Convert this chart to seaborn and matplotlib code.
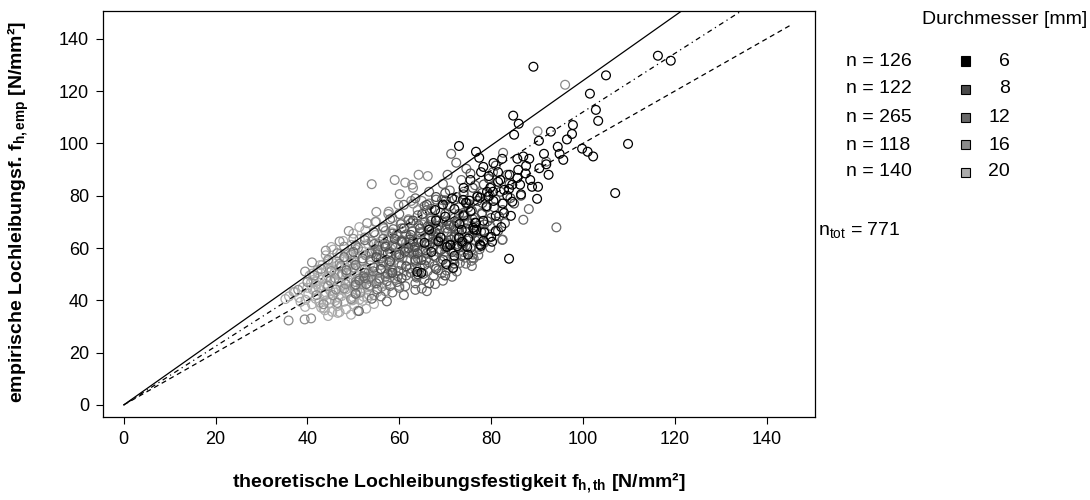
import numpy as np
import pandas as pd
import matplotlib
matplotlib.use("Agg")
import matplotlib.pyplot as plt
import seaborn as sns

# Durchmesser der Verbindungsmittel und Anzahl der Versuche
durchmesser = [6, 8, 12, 16, 20]
anzahl = [126, 122, 265, 118, 140]
n_gesamt = 771
farben = ["#000000", "#4a4a4a", "#686868", "#8a8a8a", "#ababab"]

# Geraden durch den Ursprung (Steigung) und ihre Linienart
steigungen = [1.24, 1.12, 1.0]
linienarten = ["-", (0, (1, 3, 4, 3)), (0, (4, 3))]

# d = 6 mm
x6 = [89.2, 116.3, 119.1, 105.0, 101.5, 102.8, 103.3, 97.8, 97.6, 94.5, 94.9, 95.7, 99.8, 101.0,
      102.2, 109.8, 107.0, 84.8, 86.0, 85.0, 90.4, 73.0, 76.7, 77.4, 82.4, 85.7, 87.0, 88.3, 87.6,
      78.3, 77.8, 85.9, 85.7, 82.0, 81.5, 84.6, 86.3, 83.9, 82.8, 88.9, 90.2, 90.0, 84.6, 79.8,
      79.1, 80.4, 77.0, 77.6, 73.9, 84.3, 82.8, 81.0, 82.2, 78.3, 76.7, 76.3, 80.0, 80.2, 78.3,
      77.8, 83.9, 70.2, 71.7, 63.9, 64.8, 74.8, 73.7, 76.1, 77.6, 71.1, 70.4, 73.0, 79.4, 69.5,
      72.0, 67.8, 74.5, 75.3, 73.1, 73.6, 71.1, 72.6, 75.0, 76.5, 76.8, 68.0, 66.5, 70.0, 74.0,
      79.0, 80.5, 75.5, 71.5, 68.5, 67.0, 72.0, 75.0, 69.0, 65.5, 78.5, 81.0, 82.5, 83.5, 86.5,
      81.5, 79.5, 84.0, 87.5, 92.5, 90.5, 88.5, 92.0, 96.5, 93.0, 91.5, 80.5, 75.5, 74.0]
y6 = [129.3, 133.5, 131.6, 126.0, 119.0, 112.8, 108.6, 107.0, 103.6, 98.7, 96.0, 93.7, 98.0, 96.8,
      95.0, 99.8, 81.0, 110.6, 107.5, 103.3, 101.0, 99.0, 96.8, 94.5, 94.1, 94.1, 95.0, 94.1, 91.4,
      91.0, 89.0, 89.9, 86.8, 86.0, 85.3, 84.2, 84.2, 82.6, 82.2, 83.4, 83.4, 78.8, 77.7, 83.0,
      81.5, 81.5, 79.6, 79.2, 78.4, 72.3, 73.4, 72.3, 68.0, 70.4, 69.6, 67.0, 64.3, 62.4, 62.7,
      60.8, 55.9, 53.9, 52.4, 50.9, 50.5, 60.4, 62.4, 67.7, 61.2, 61.2, 60.4, 63.9, 79.7, 76.6,
      74.9, 74.5, 77.3, 78.1, 69.2, 66.9, 61.1, 60.7, 63.6, 69.7, 66.9, 70.5, 67.0, 72.0, 72.5,
      76.0, 78.0, 74.0, 79.0, 62.5, 58.5, 57.0, 57.5, 64.0, 62.0, 66.0, 66.5, 77.0, 80.0, 80.5,
      89.0, 87.5, 88.0, 88.5, 88.0, 90.5, 86.0, 92.0, 101.5, 104.5, 96.0, 92.5, 86.0, 83.0]

# d = 8 mm
x8 = [58.0, 60.0, 62.0, 64.0, 66.0, 68.0, 70.0, 72.0, 74.0, 76.0, 60.5, 62.5, 64.5, 66.5, 68.5,
      70.5, 72.5, 74.5, 76.5, 78.5, 63.0, 65.0, 67.0, 69.0, 71.0, 73.0, 75.0, 77.0, 79.0, 81.0,
      66.0, 68.0, 70.0, 72.0, 74.0, 76.0, 78.0, 80.0, 82.0, 84.0, 57.0, 59.0, 61.0, 56.0, 58.5,
      61.5, 63.5, 65.5, 67.5, 69.5, 71.5, 73.5, 75.5, 77.5, 79.5, 81.5, 83.0, 80.0, 78.0, 82.5,
      85.0, 86.5, 83.5, 79.5, 75.5, 81.0, 60.5, 64.0, 68.0, 72.0, 66.5, 70.0, 55.0, 57.5, 63.0,
      67.0, 71.0, 75.0, 73.0, 69.0, 62.3, 64.1, 66.2, 67.8, 70.3, 71.9, 74.2, 75.8, 78.1, 79.7,
      63.4, 65.7, 67.3, 69.8, 71.2, 73.6, 75.3, 77.8, 79.2, 81.7, 61.2, 64.8, 69.1, 72.9, 77.3,
      80.6, 84.2, 70.1, 74.7, 78.4]
y8 = [55.0, 57.5, 60.0, 58.0, 61.5, 63.0, 60.5, 64.5, 62.0, 65.5, 62.5, 65.0, 67.5, 64.5, 68.5,
      66.0, 70.0, 67.5, 71.5, 69.0, 70.5, 73.0, 70.5, 73.5, 76.0, 73.0, 75.5, 78.0, 75.5, 78.5,
      76.5, 79.5, 81.0, 78.5, 80.5, 83.0, 81.0, 83.5, 81.5, 84.5, 60.5, 63.5, 67.5, 52.0, 50.5,
      53.0, 55.5, 53.5, 57.0, 55.5, 58.5, 57.0, 60.0, 61.5, 64.0, 66.5, 69.5, 71.5, 73.0, 74.5,
      77.0, 80.0, 88.0, 86.5, 88.5, 91.5, 48.5, 50.0, 52.0, 54.0, 46.5, 49.5, 56.5, 58.0, 62.5,
      66.5, 68.5, 69.5, 66.5, 64.0, 63.2, 62.1, 68.3, 66.1, 70.2, 68.4, 72.1, 74.3, 77.2, 80.1,
      60.4, 59.2, 62.3, 61.4, 63.2, 61.7, 64.1, 66.3, 70.2, 72.1, 58.6, 55.4, 59.3, 60.2, 63.4,
      75.6, 79.1, 78.2, 77.1, 84.3]

# d = 12 mm
x12 = [72.4, 71.3, 74.6, 80.4, 82.6, 92.0, 94.2, 88.2, 87.0, 82.5, 76.2, 64.9, 57.3, 51.2, 54.0,
       50.5, 79.8, 81.3, 82.4, 75.9, 69.3, 56.0, 58.5, 61.0, 63.5, 66.0, 60.0, 50.5, 52.5, 55.0,
       57.0, 59.5, 61.5, 63.5, 65.5, 67.5, 69.5, 71.5, 58.0, 48.5, 50.5, 52.5, 54.5, 56.5, 58.5,
       60.5, 62.5, 64.5, 66.5, 68.5, 70.5, 72.5, 74.5, 57.5, 63.5, 69.0, 48.0, 50.0, 52.0, 54.0,
       56.0, 58.0, 60.0, 62.0, 64.0, 66.0, 68.0, 70.0, 72.0, 74.0, 76.0, 77.5, 61.0, 65.0, 50.5,
       52.5, 54.5, 56.5, 58.5, 60.5, 62.5, 64.5, 66.5, 68.5, 70.5, 72.5, 74.5, 76.5, 78.5, 63.5,
       67.5, 59.5, 54.5, 56.5, 58.5, 60.5, 62.5, 64.5, 66.5, 68.5, 70.5, 72.5, 74.5, 76.5, 78.5,
       65.5, 61.5, 69.5, 58.0, 60.0, 62.0, 64.0, 66.0, 68.0, 70.0, 72.0, 74.0, 76.0, 78.0, 67.0,
       61.0, 63.5, 65.5, 68.0, 70.5, 72.5, 75.0, 77.0, 66.5, 71.0, 74.0, 69.5, 73.5, 76.5, 70.5,
       53.7, 55.2, 57.8, 59.3, 61.7, 63.2, 65.8, 67.3, 69.7, 71.2, 73.8, 52.2, 54.3, 55.7, 58.2,
       59.8, 62.3, 63.7, 66.2, 67.7, 70.3, 71.8, 74.3, 75.7, 55.3, 56.8, 59.2, 60.7, 63.3, 64.8,
       67.2, 68.7, 71.3, 72.8, 75.2, 76.8, 58.7, 60.3, 62.8, 64.2, 66.8, 68.2, 70.8, 72.3, 74.8,
       51.3, 52.8, 55.2, 57.3, 59.7, 61.3, 63.8, 65.2, 67.8, 69.2, 71.7, 73.2, 75.8, 77.2, 79.8]
y12 = [92.6, 96.0, 90.3, 89.0, 96.4, 93.0, 67.9, 74.9, 70.8, 63.2, 56.0, 44.5, 39.6, 35.9, 40.6,
       42.5, 68.5, 70.0, 63.1, 56.2, 78.4, 41.5, 43.0, 42.0, 44.0, 43.5, 44.8, 46.0, 48.5, 46.5,
       49.0, 47.0, 49.5, 46.5, 48.0, 49.5, 47.5, 49.0, 45.5, 51.5, 53.5, 50.5, 52.5, 54.5, 51.5,
       53.5, 50.5, 52.5, 54.5, 51.5, 53.5, 51.0, 54.0, 50.2, 54.8, 55.0, 56.5, 58.5, 56.0, 58.0,
       56.0, 58.5, 56.5, 58.5, 56.0, 58.0, 56.5, 58.5, 56.0, 58.5, 57.5, 59.5, 59.8, 59.5, 61.0,
       63.0, 61.5, 63.5, 61.0, 63.0, 61.5, 63.5, 61.0, 63.0, 61.5, 63.5, 61.0, 63.0, 62.0, 60.2,
       64.8, 64.6, 66.0, 68.0, 65.5, 67.5, 69.5, 66.0, 68.0, 65.5, 67.5, 69.5, 66.0, 68.0, 66.5,
       69.8, 65.2, 69.8, 71.0, 73.0, 70.5, 72.5, 74.5, 71.0, 73.0, 71.5, 73.5, 71.0, 73.5, 75.0,
       76.5, 79.0, 76.0, 78.5, 76.5, 79.5, 77.0, 80.0, 81.5, 82.0, 81.5, 84.5, 86.0, 84.0, 88.0,
       55.4, 57.6, 54.3, 57.2, 55.1, 57.7, 55.3, 60.2, 56.8, 59.4, 60.7, 49.2, 51.1, 48.3, 50.6,
       51.2, 52.1, 49.3, 51.2, 53.1, 51.4, 55.2, 56.3, 55.1, 59.3, 61.7, 60.2, 62.1, 59.4, 62.2,
       60.3, 62.6, 64.3, 61.4, 64.2, 66.1, 67.2, 69.1, 66.4, 68.7, 71.2, 67.1, 69.3, 67.2, 70.4,
       47.6, 46.2, 44.1, 47.3, 49.2, 45.4, 48.7, 50.1, 46.2, 50.3, 52.2, 54.3, 53.1, 57.2, 60.1]

# d = 16 mm
x16 = [54.0, 59.0, 61.3, 64.2, 66.2, 62.8, 63.0, 57.7, 55.0, 57.6, 59.8, 54.8, 96.1, 90.1, 35.9,
       39.4, 40.8, 42.0, 44.5, 46.0, 48.5, 50.5, 52.5, 54.0, 56.0, 58.0, 60.0, 47.0, 49.5, 51.0,
       53.5, 55.5, 57.5, 59.5, 61.5, 63.0, 65.0, 62.0, 60.5, 58.5, 56.5, 54.5, 52.5, 50.0, 48.0,
       46.5, 44.5, 43.0, 41.5, 40.0, 45.5, 48.0, 51.5, 53.5, 55.5, 57.5, 59.0, 61.0, 62.5, 64.5,
       66.5, 68.0, 70.0, 67.0, 64.0, 66.5, 62.6, 64.9, 60.1, 63.0, 68.5, 71.5, 73.0, 70.5, 72.5,
       74.0, 66.0, 68.5, 63.5, 60.0, 57.0, 54.5, 49.5, 46.5, 43.5, 52.0, 50.0, 47.5, 45.0, 56.5,
       58.5, 54.0, 61.5, 65.5, 57.0, 53.0, 49.0, 47.0, 44.0, 41.0, 39.5, 38.0, 45.2, 47.3, 50.2,
       52.7, 54.8, 57.3, 60.2, 62.3, 65.2, 50.3, 53.2, 55.3, 58.2, 60.7, 63.2, 46.2, 48.3, 51.2,
       53.3, 56.2]
y16 = [84.4, 86.0, 85.0, 88.0, 87.5, 84.2, 83.0, 73.9, 73.8, 73.0, 76.5, 70.0, 122.4, 104.6, 32.3,
       32.7, 33.1, 42.0, 45.5, 48.5, 50.5, 47.0, 52.0, 49.0, 53.5, 56.5, 54.0, 54.0, 57.5, 60.0,
       58.0, 61.5, 63.0, 65.5, 62.0, 66.5, 69.0, 71.0, 69.5, 71.5, 68.0, 66.0, 64.0, 63.5, 60.5,
       58.0, 55.5, 52.0, 49.5, 47.0, 42.0, 44.5, 43.0, 45.5, 47.5, 50.0, 48.5, 51.0, 55.5, 58.5,
       61.0, 64.5, 67.5, 72.0, 74.5, 77.0, 78.0, 78.0, 80.6, 77.0, 70.5, 72.0, 75.5, 62.0, 65.0,
       69.5, 56.0, 58.5, 52.0, 45.5, 43.5, 42.0, 40.5, 39.0, 38.5, 55.0, 52.5, 50.0, 47.5, 58.5,
       60.5, 62.5, 59.5, 64.0, 66.5, 69.5, 66.5, 62.5, 59.0, 54.5, 51.0, 44.0, 51.2, 53.1, 55.3,
       57.2, 59.1, 61.2, 62.7, 64.1, 66.3, 45.4, 48.2, 50.3, 52.6, 56.2, 58.3, 44.1, 46.2, 48.3,
       50.7, 45.2]

# d = 20 mm
x20 = [44.5, 47.0, 49.5, 52.8, 39.5, 41.0, 43.0, 44.8, 46.5, 48.0, 50.2, 52.0, 54.5, 38.2, 40.2,
       41.8, 43.6, 45.0, 46.8, 48.5, 50.0, 51.5, 53.4, 55.2, 47.5, 44.2, 39.0, 40.8, 42.5, 44.0,
       45.8, 47.2, 49.0, 50.6, 52.2, 53.8, 55.6, 57.2, 43.2, 48.2, 40.5, 42.2, 44.5, 46.0, 47.6,
       49.5, 51.0, 52.8, 54.5, 56.0, 58.0, 45.2, 50.2, 42.8, 44.6, 46.4, 48.0, 49.8, 51.8, 53.6,
       55.4, 57.2, 59.0, 47.0, 44.0, 45.6, 48.6, 50.4, 52.6, 54.2, 56.4, 58.2, 60.0, 45.2, 47.8,
       49.6, 51.4, 53.2, 55.8, 57.6, 59.6, 50.0, 52.6, 54.8, 56.6, 58.4, 51.3, 55.0, 35.2, 37.0,
       38.5, 40.0, 41.3, 43.5, 45.4, 50.9, 51.3, 49.8, 53.0, 43.3, 42.2, 36.0, 37.3, 46.2, 48.8,
       44.0, 47.0, 49.6, 42.0, 51.8, 46.0, 48.4, 53.6, 50.4, 47.4, 44.8, 52.0, 49.2, 55.6, 41.6,
       39.6, 43.8, 46.6, 42.6, 45.1, 47.4, 49.8, 52.2, 41.2, 43.6, 46.0, 48.4, 50.8, 53.2, 44.2,
       46.6, 49.0, 51.4, 53.8, 42.0, 44.4, 46.8, 49.2, 51.6, 54.0, 45.6, 48.0, 50.4, 52.8, 47.2,
       49.6, 43.8, 41.0]
y20 = [34.0, 35.5, 34.5, 36.8, 37.5, 38.5, 37.2, 39.0, 37.8, 39.5, 38.2, 39.8, 38.6, 41.0, 42.5,
       40.6, 41.8, 43.5, 41.2, 42.8, 41.0, 43.6, 42.0, 43.2, 44.0, 40.0, 45.0, 46.8, 44.6, 46.2,
       47.6, 45.4, 46.8, 45.0, 47.2, 45.6, 47.8, 46.0, 48.0, 48.0, 49.5, 50.8, 49.2, 51.2, 49.6,
       51.0, 49.2, 51.5, 49.8, 51.6, 50.0, 52.0, 52.4, 53.5, 55.0, 53.2, 55.6, 53.8, 55.2, 53.4,
       55.8, 54.0, 55.4, 56.5, 57.2, 59.4, 58.0, 59.6, 57.4, 59.2, 57.6, 59.8, 58.2, 60.4, 62.7,
       61.2, 63.4, 61.6, 62.4, 63.8, 61.8, 65.5, 66.8, 65.0, 67.4, 66.0, 68.0, 70.0, 40.5, 43.2,
       39.4, 44.8, 47.8, 37.1, 35.6, 36.0, 40.2, 40.2, 40.9, 53.6, 51.6, 41.5, 43.2, 44.2, 43.2,
       43.0, 47.0, 48.4, 46.0, 44.6, 39.8, 36.6, 48.6, 54.4, 52.6, 50.6, 58.6, 57.0, 60.8, 43.8,
       40.2, 36.2, 35.2, 39.2, 40.4, 41.6, 40.0, 41.4, 44.0, 45.2, 43.0, 44.2, 43.8, 45.0, 48.6,
       49.8, 47.6, 48.4, 50.6, 47.2, 52.4, 50.0, 53.0, 46.2, 47.0, 54.2, 52.0, 56.4, 48.0, 57.8,
       55.0, 42.4, 50.2]

# Tabelle fuer seaborn, Zeichenreihenfolge: 20 mm zuerst, 6 mm zuletzt
teile = []
for d, xs, ys in [(20, x20, y20), (16, x16, y16), (12, x12, y12), (8, x8, y8), (6, x6, y6)]:
    teile.append(pd.DataFrame({"fth": xs, "femp": ys, "d": str(d)}))
df = pd.concat(teile, ignore_index=True)
palette = {str(d): c for d, c in zip(durchmesser, farben)}

sns.set_style("ticks")
plt.rcParams["font.family"] = ["Liberation Sans", "DejaVu Sans"]
plt.rcParams["mathtext.fontset"] = "custom"
plt.rcParams["mathtext.rm"] = "Liberation Sans"
plt.rcParams["mathtext.it"] = "Liberation Sans:italic"
plt.rcParams["mathtext.bf"] = "Liberation Sans:bold"
plt.rcParams["text.color"] = "black"

fig = plt.figure(figsize=(10.9, 5.0), dpi=100)
ax = fig.add_axes([103 / 1090, 1 - 417 / 500, 712 / 1090, 406 / 500])

sns.scatterplot(data=df, x="fth", y="femp", hue="d", palette=palette, s=40,
                linewidth=0.9, legend=False, ax=ax)
# offene Kreise wie im Original
for coll in ax.collections:
    fc = coll.get_facecolors()
    coll.set_edgecolors(fc)
    coll.set_facecolors("none")

xl = np.array([0, 145])
for m, ls in zip(steigungen, linienarten):
    ax.plot(xl, m * xl, color="black", linewidth=0.9, linestyle=ls)

ax.set_xlim(-4.5, 150.5)
ax.set_ylim(-4.6, 150.6)
ax.set_xticks(range(0, 141, 20))
ax.set_yticks(range(0, 141, 20))
for s in ax.spines.values():
    s.set_visible(True)
    s.set_linewidth(0.9)
    s.set_color("black")
ax.tick_params(direction="out", length=5, width=0.8, labelsize=13, pad=5,
               colors="black", labelcolor="black")

ax.set_xlabel("")
ax.set_ylabel("")
fig.text(459 / 1090, 1 - 483 / 500,
         "theoretische Lochleibungsfestigkeit $\\mathbf{f_{h,th}}$ [N/mm²]",
         ha="center", va="center", fontsize=14, fontweight="bold")
fig.text(18 / 1090, 1 - 212 / 500,
         "empirische Lochleibungsf. $\\mathbf{f_{h,emp}}$ [N/mm²]",
         ha="center", va="center", rotation=90, fontsize=14, fontweight="bold")

# Legende rechts
fig.text(1087 / 1090, 1 - 20 / 500, "Durchmesser [mm]", ha="right", va="center", fontsize=14)
ys_leg = [61, 89, 117, 145, 172]
for yy, n, d, c in zip(ys_leg, anzahl, durchmesser, farben):
    fig.text(846 / 1090, 1 - yy / 500, f"n = {n}", ha="left", va="center", fontsize=14)
    fig.patches.append(plt.Rectangle(((965 - 4.5) / 1090, 1 - (yy + 4.5) / 500), 9 / 1090, 9 / 500,
                                     transform=fig.transFigure, facecolor=c, edgecolor="black",
                                     linewidth=0.8, figure=fig))
    fig.text(1010 / 1090, 1 - yy / 500, str(d), ha="right", va="center", fontsize=14)
fig.text(818 / 1090, 1 - 230 / 500, "$\\mathrm{n_{tot}}$ = " + str(n_gesamt),
         ha="left", va="center", fontsize=14)

fig.savefig("out.png", dpi=100)
